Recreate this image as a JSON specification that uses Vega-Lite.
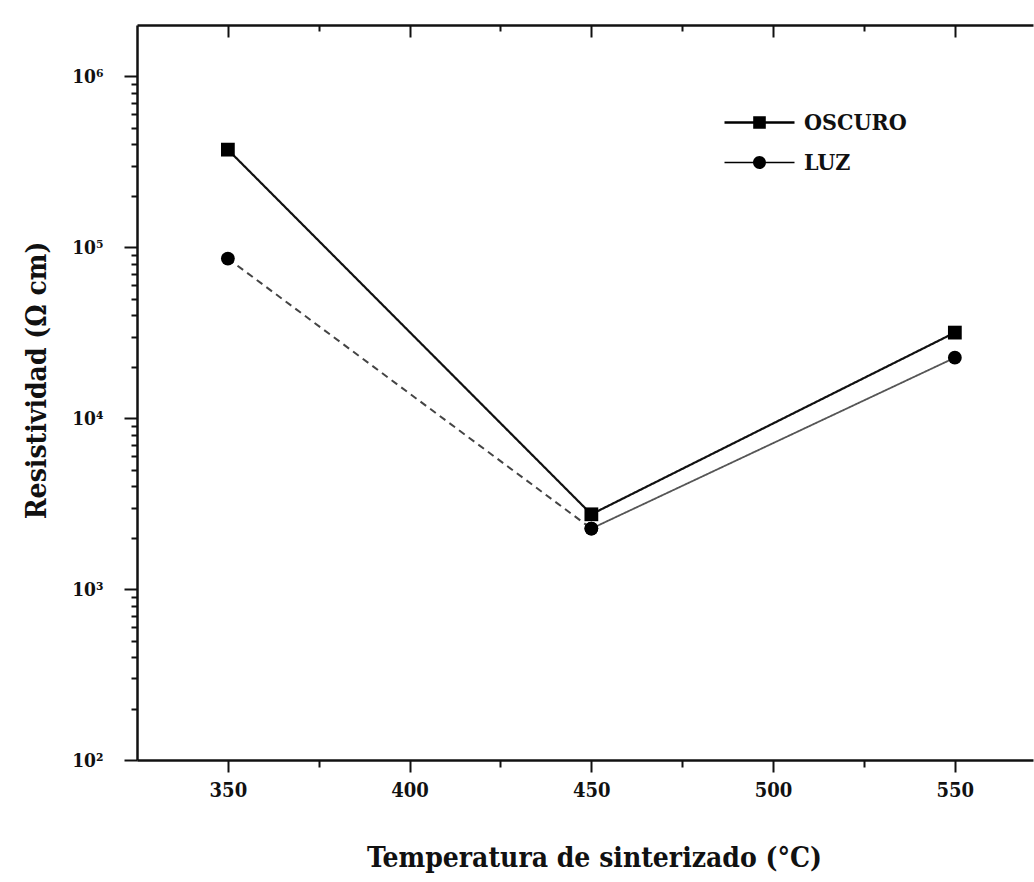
{
  "$schema": "https://vega.github.io/schema/vega-lite/v6.json",
  "autosize": "none",
  "width": 896,
  "height": 735,
  "padding": {"left": 137, "top": 25, "right": 1, "bottom": 122},
  "background": "white",
  "config": {
    "view": {"stroke": null},
    "font": "DejaVu Serif Condensed, DejaVu Serif",
    "axis": {"grid": false}
  },
  "data": {
    "values": [
      {"serie": "OSCURO", "tramo": "OSCURO", "temp": 350, "rho": 373000},
      {"serie": "OSCURO", "tramo": "OSCURO", "temp": 450, "rho": 2740},
      {"serie": "OSCURO", "tramo": "OSCURO", "temp": 550, "rho": 31700},
      {"serie": "LUZ", "tramo": "LUZ-a", "temp": 350, "rho": 86000},
      {"serie": "LUZ", "tramo": "LUZ-a", "temp": 450, "rho": 2260},
      {"serie": "LUZ", "tramo": "LUZ-b", "temp": 450, "rho": 2260},
      {"serie": "LUZ", "tramo": "LUZ-b", "temp": 550, "rho": 22600}
    ]
  },
  "layer": [
    {
      "mark": {"type": "line", "clip": true},
      "encoding": {
        "x": {
          "field": "temp", "type": "quantitative",
          "scale": {"domain": [325, 571.5], "nice": false, "zero": false},
          "axis": {
            "orient": "bottom",
            "title": "Temperatura de sinterizado (°C)",
            "titleFont": "DejaVu Serif Condensed, DejaVu Serif",
            "titleFontSize": 28, "titleFontWeight": "bold", "titleColor": "#111",
            "titlePadding": 44,
            "titleX": 457,
            "values": [350, 375, 400, 425, 450, 475, 500, 525, 550],
            "labelExpr": "datum.value % 50 === 0 ? datum.label : ''",
            "labelFont": "DejaVu Serif Condensed, DejaVu Serif",
            "labelFontSize": 20, "labelFontWeight": "bold", "labelColor": "#111",
            "labelPadding": 8, "labelOverlap": false, "labelFlush": false,
            "tickSize": {"condition": {"test": "datum.value % 50 !== 0", "value": 7}, "value": 12},
            "tickWidth": 2, "tickColor": "#111",
            "domainColor": "#111", "domainWidth": 2.5
          }
        },
        "y": {
          "field": "rho", "type": "quantitative",
          "scale": {"type": "log", "domain": [100, 2000000], "nice": false},
          "axis": {
            "orient": "left",
            "title": "Resistividad (Ω cm)",
            "titleFont": "DejaVu Serif Condensed, DejaVu Serif",
            "titleFontSize": 28, "titleFontWeight": "bold", "titleColor": "#111",
            "titlePadding": 20,
            "titleY": 355,
            "values": [100, 200, 300, 400, 500, 600, 700, 800, 900, 1000, 2000, 3000, 4000, 5000, 6000, 7000, 8000, 9000, 10000, 20000, 30000, 40000, 50000, 60000, 70000, 80000, 90000, 100000, 200000, 300000, 400000, 500000, 600000, 700000, 800000, 900000, 1000000],
            "labelExpr": "datum.value == 100 ? '10²' : datum.value == 1000 ? '10³' : datum.value == 10000 ? '10⁴' : datum.value == 100000 ? '10⁵' : datum.value == 1000000 ? '10⁶' : ''",
            "labelFont": "DejaVu Serif Condensed, DejaVu Serif",
            "labelFontSize": 19, "labelFontWeight": "bold", "labelColor": "#111",
            "labelPadding": 21, "labelOverlap": false, "labelFlush": false,
            "tickSize": {"condition": {"test": "datum.value == 100 || datum.value == 1000 || datum.value == 10000 || datum.value == 100000 || datum.value == 1000000", "value": 13}, "value": 6},
            "tickWidth": 2, "tickColor": "#111",
            "domainColor": "#111", "domainWidth": 2.5
          }
        },
        "detail": {"field": "tramo"},
        "strokeDash": {
          "field": "tramo", "type": "nominal", "legend": null,
          "scale": {"domain": ["OSCURO", "LUZ-a", "LUZ-b"], "range": [[1, 0], [7, 5], [1, 0]]}
        },
        "strokeWidth": {
          "field": "tramo", "type": "nominal", "legend": null,
          "scale": {"domain": ["OSCURO", "LUZ-a", "LUZ-b"], "range": [2.2, 1.8, 1.5]}
        },
        "color": {
          "field": "tramo", "type": "nominal", "legend": null,
          "scale": {"domain": ["OSCURO", "LUZ-a", "LUZ-b"], "range": ["#111111", "#444444", "#555555"]}
        }
      }
    },
    {
      "mark": {"type": "point", "filled": true, "color": "#000000", "opacity": 1, "size": 190},
      "encoding": {
        "x": {
          "field": "temp", "type": "quantitative",
          "axis": {
            "orient": "top",
            "title": null,
            "labels": false,
            "values": [350, 375, 400, 425, 450, 475, 500, 525, 550],
            "tickSize": {"condition": {"test": "datum.value % 50 !== 0", "value": -6}, "value": -12},
            "tickWidth": 2, "tickColor": "#111",
            "domainColor": "#111", "domainWidth": 2.5
          }
        },
        "y": {"field": "rho", "type": "quantitative", "axis": null},
        "shape": {
          "field": "serie", "type": "nominal",
          "scale": {"domain": ["OSCURO", "LUZ"], "range": ["square", "circle"]},
          "legend": null
        }
      }
    },
    {
      "mark": {"type": "point", "filled": true, "color": "#000000", "size": 0},
      "encoding": {
        "x": {"field": "temp", "type": "quantitative", "axis": null},
        "y": {"field": "rho", "type": "quantitative", "axis": null},
        "shape": {
          "field": "serie", "type": "nominal",
          "scale": {
            "domain": ["OSCURO", "LUZ"],
            "range": [
              "M-2,-0.065H2V0.065H-2ZM-0.36,-0.36H0.36V0.36H-0.36Z",
              "M-2,-0.045H2V0.045H-2ZM0.37,0A0.37,0.37 0 1,1 -0.37,0A0.37,0.37 0 1,1 0.37,0Z"
            ]
          },
          "legend": {
            "title": null,
            "orient": "none",
            "legendX": 604,
            "legendY": 79,
            "padding": 0,
            "symbolSize": 1225,
            "symbolOpacity": 1,
            "symbolFillColor": "#000000",
            "labelOffset": 26,
            "rowPadding": 9,
            "labelFont": "DejaVu Serif Condensed, DejaVu Serif",
            "labelFontSize": 23,
            "labelFontWeight": "bold",
            "labelColor": "#111"
          }
        }
      }
    }
  ],
  "resolve": {
    "axis": {"x": "independent", "y": "independent"},
    "scale": {"shape": "independent"}
  }
}
